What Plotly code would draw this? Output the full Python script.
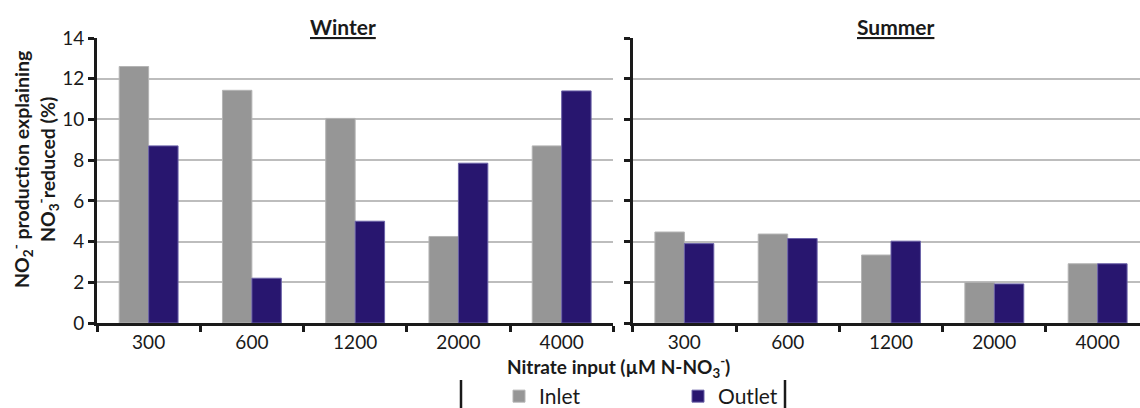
import plotly.graph_objects as go

categories = ["300", "600", "1200", "2000", "4000"]
winter_inlet = [12.6, 11.43, 10.05, 4.25, 8.7]
winter_outlet = [8.7, 2.2, 5.0, 7.85, 11.4]
summer_inlet = [4.47, 4.37, 3.34, 2.0, 2.91]
summer_outlet = [3.9, 4.15, 4.02, 1.92, 2.91]

panel_titles = ["Winter", "Summer"]
series_names = ["Inlet", "Outlet"]
y_ticks = [0, 2, 4, 6, 8, 10, 12, 14]

INLET_COLOR = "#969696"
OUTLET_COLOR = "#28166f"
FONT = "Lato"

W, H = 1140, 408
ML, MR, MT, MB = 97, 0, 38, 85
PW = W - ML - MR
PH = H - MT - MB


def px_x(px):
    return (px - ML) / PW


def px_y(py):
    return (H - MB - py) / PH


fig = go.Figure()
fig.add_trace(go.Bar(x=categories, y=winter_inlet, name=series_names[0],
                     marker=dict(color=INLET_COLOR, line=dict(color="#b4b4b4", width=1)),
                     xaxis="x", yaxis="y", legendgroup="in"))
fig.add_trace(go.Bar(x=categories, y=winter_outlet, name=series_names[1],
                     marker=dict(color=OUTLET_COLOR, line=dict(color="#6b62a8", width=1)),
                     xaxis="x", yaxis="y", legendgroup="out"))
fig.add_trace(go.Bar(x=categories, y=summer_inlet, name=series_names[0],
                     marker=dict(color=INLET_COLOR, line=dict(color="#b4b4b4", width=1)),
                     xaxis="x2", yaxis="y2", legendgroup="in", showlegend=False))
fig.add_trace(go.Bar(x=categories, y=summer_outlet, name=series_names[1],
                     marker=dict(color=OUTLET_COLOR, line=dict(color="#6b62a8", width=1)),
                     xaxis="x2", yaxis="y2", legendgroup="out", showlegend=False))

left_end = px_x(613.3)
right_start = px_x(632.7)
cat_px = (613.3 - 96.7) / 5
right_range_end = -0.5 + (W - 632.7) / cat_px

xcommon = dict(type="category", categoryorder="array", categoryarray=categories,
               tickson="boundaries", ticks="outside", ticklen=6, tickwidth=3,
               tickcolor="#1a1a1a", showline=True, linewidth=3, linecolor="#1a1a1a",
               showgrid=False, tickfont=dict(family=FONT, size=19, color="#1a1a1a"),
               fixedrange=True)
ycommon = dict(range=[0, 14], tickvals=y_ticks, ticks="outside", ticklen=6, tickwidth=3,
               tickcolor="#1a1a1a", showline=True, linewidth=3, linecolor="#1a1a1a",
               showgrid=True, gridcolor="#bdbdbd", gridwidth=1.5, zeroline=False,
               tickfont=dict(family=FONT, size=19, color="#1a1a1a"), fixedrange=True)

fig.update_layout(
    width=W, height=H,
    margin=dict(l=ML, r=MR, t=MT, b=MB, autoexpand=False),
    paper_bgcolor="white", plot_bgcolor="white",
    barmode="group", bargap=0.43, bargroupgap=0,
    font=dict(family=FONT, color="#1a1a1a"),
    xaxis=dict(domain=[0, left_end], range=[-0.5, 4.5], anchor="y", **xcommon),
    xaxis2=dict(domain=[right_start, 1], range=[-0.5, right_range_end], anchor="y2", **xcommon),
    yaxis=dict(domain=[0, 1], anchor="x", **ycommon),
    yaxis2=dict(domain=[0, 1], anchor="x2", matches="y", showticklabels=False, **ycommon),
    showlegend=True,
    legend=dict(orientation="h", x=px_x(499), y=px_y(376), xanchor="left", yanchor="top",
                xref="paper", yref="paper", entrywidth=134, entrywidthmode="pixels",
                font=dict(family=FONT, size=21, color="#1a1a1a"),
                bgcolor="rgba(0,0,0,0)", borderwidth=0, traceorder="normal"),
    annotations=[
        dict(text="<b><u>" + panel_titles[0] + "</u></b>", x=px_x(343), y=px_y(26),
             xref="paper", yref="paper", showarrow=False, xanchor="center", yanchor="middle",
             font=dict(family=FONT, size=21, color="#1a1a1a")),
        dict(text="<b><u>" + panel_titles[1] + "</u></b>", x=px_x(896), y=px_y(26),
             xref="paper", yref="paper", showarrow=False, xanchor="center", yanchor="middle",
             font=dict(family=FONT, size=21, color="#1a1a1a")),
        dict(text="<b>Nitrate input (µM N-NO<sub>3</sub><sup>-</sup>)</b>", x=px_x(618), y=px_y(367),
             xref="paper", yref="paper", showarrow=False, xanchor="center", yanchor="middle",
             font=dict(family=FONT, size=19, color="#1a1a1a")),
        dict(text="<b>NO<sub>2</sub><sup>-</sup> production explaining<br>NO<sub>3</sub><sup>-</sup>reduced (%)</b>",
             x=px_x(35), y=px_y(170), xref="paper", yref="paper", showarrow=False,
             xanchor="center", yanchor="middle", textangle=-90,
             font=dict(family=FONT, size=19.5, color="#1a1a1a")),
    ],
    shapes=[
        dict(type="line", xref="paper", yref="paper", x0=px_x(461), x1=px_x(461),
             y0=px_y(380), y1=px_y(412), line=dict(color="#1a1a1a", width=2.5)),
        dict(type="line", xref="paper", yref="paper", x0=px_x(785), x1=px_x(785),
             y0=px_y(380), y1=px_y(412), line=dict(color="#1a1a1a", width=2.5)),
    ],
)

fig.write_html("out.html")
